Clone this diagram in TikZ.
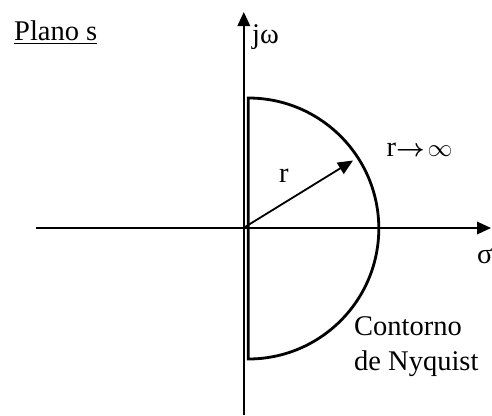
\documentclass[tikz,border=0pt]{standalone}
\usepackage{fontspec}
\setmainfont{Liberation Serif}
\usetikzlibrary{arrows.meta, positioning, calc}
\tikzset{
  axis/.style={-{Triangle[length=14pt, width=12.5pt]}, line width=1.8pt},
  contour/.style={line width=2.8pt, line join=miter},
  radial/.style={-{Triangle[length=15pt, width=13pt]}, line width=1.8pt},
  lbl/.style={anchor=base west, inner sep=0pt, font=\fontsize{28.5}{34}\selectfont},
}
\newcommand{\toinf}{{\fontsize{24}{28}\selectfont$\boldsymbol{\rightarrow}\!\infty$}}
\usepackage{amsmath}
\begin{document}
\begin{tikzpicture}[x=1pt, y=-1pt]
    \useasboundingbox (0,0) rectangle (492,415);
    % axes
    \coordinate (west) at (36,228);
    \coordinate (east) at (491,228);
    \coordinate (south) at (243.8,415);
    \coordinate (north) at (243.8,12);
    \draw[axis] (west) -- (east);
    \draw[axis] (south) -- (north);
    % Nyquist contour
    \coordinate (top) at (248.3,98);
    \draw[contour] (top) arc[start angle=-90, end angle=90, radius=130.5] -- cycle;
    % radius
    \coordinate (orig) at (245,227);
    \coordinate (rtip) at (353,160.5);
    \draw[radial] (orig) -- (rtip);
    % labels
    \node[lbl] (plano) at (14,40) {\underline{Plano s}};
    \node[lbl] (jw) at (252,43) {jω};
    \node[lbl] (rinf) at (386.5,156) {r\toinf};
    \node[lbl] (r) at (279,182) {r};
    \node[lbl] (sigma) at (477,263) {σ};
    \node[lbl] (cont) at (354,335) {Contorno};
    \node[lbl] (nyq) at ($(cont.base west)+(0,35)$) {de Nyquist};
  \end{tikzpicture}
\end{document}
